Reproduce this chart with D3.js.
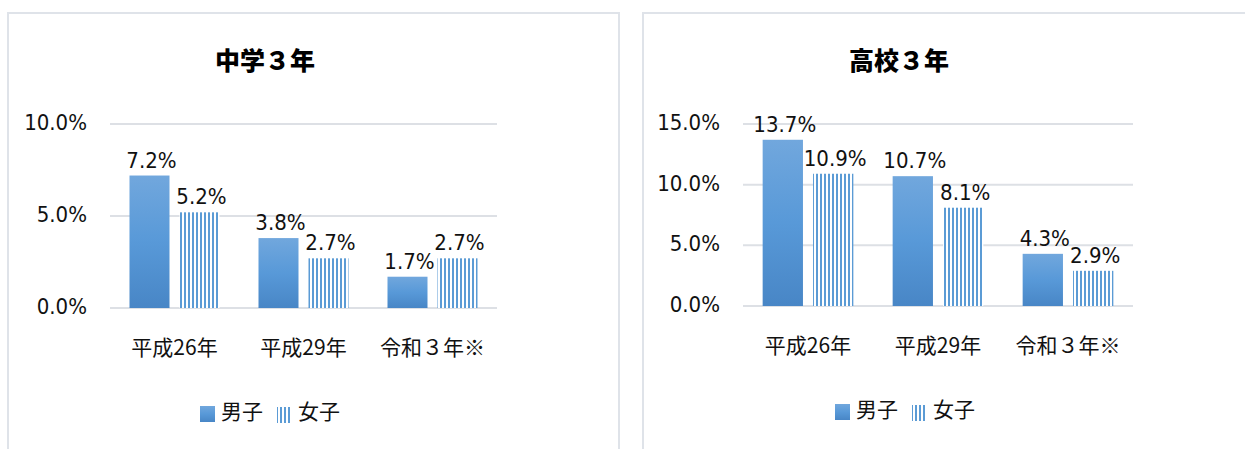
<!DOCTYPE html>
<html lang="ja">
<head>
<meta charset="UTF-8">
<title>中学３年・高校３年</title>
<script src="https://d3js.org/d3.v7.min.js"></script>
<style>
    body { margin: 0; background: #fff; }
    .num { font-family: "DejaVu Sans Condensed", "DejaVu Sans", Verdana, sans-serif; font-size: 22px; fill: #111; }
    .jp { font-family: "Noto Sans CJK JP", "Noto Sans", sans-serif; font-size: 21px; fill: #111; }
    .title { font-family: "Noto Sans CJK JP", sans-serif; font-size: 25px; font-weight: 900; fill: #000; }
</style>
</head>
<body>
<div id="chart"></div>
<script>
    // data
    var categories = ["平成26年", "平成29年", "令和３年※"];
    var series = ["男子", "女子"];
    var juniorMale = [7.2, 3.8, 1.7];
    var juniorFemale = [5.2, 2.7, 2.7];
    var highMale = [13.7, 10.7, 4.3];
    var highFemale = [10.9, 8.1, 2.9];
    var juniorTicks = [0, 5, 10];
    var highTicks = [0, 5, 10, 15];

    var W = 1245, H = 449;
    var svg = d3.select("#chart").append("svg")
        .attr("width", W)
        .attr("height", H);

    var defs = svg.append("defs");
    var grad = defs.append("linearGradient")
        .attr("id", "maleGrad")
        .attr("x1", 0).attr("y1", 0).attr("x2", 0).attr("y2", 1);
    grad.append("stop").attr("offset", "0%").attr("stop-color", "#71a7dd");
    grad.append("stop").attr("offset", "50%").attr("stop-color", "#5899d8");
    grad.append("stop").attr("offset", "100%").attr("stop-color", "#4886c6");

    var pat = defs.append("pattern")
        .attr("id", "femaleStripes")
        .attr("patternUnits", "userSpaceOnUse")
        .attr("width", 4).attr("height", 4);
    pat.append("rect").attr("width", 4).attr("height", 4).attr("fill", "#fff");
    pat.append("rect").attr("x", 0).attr("width", 2).attr("height", 4).attr("fill", "#5b9bd5");

    function fillFor(s) { return s === "男子" ? "url(#maleGrad)" : "url(#femaleStripes)"; }

    // panel frames
    svg.append("rect").attr("x", 8).attr("y", 13).attr("width", 611).attr("height", 500)
        .attr("fill", "none").attr("stroke", "#dfe3e9").attr("stroke-width", 2);
    svg.append("rect").attr("x", 643).attr("y", 13).attr("width", 640).attr("height", 500)
        .attr("fill", "none").attr("stroke", "#dfe3e9").attr("stroke-width", 2);

    var charts = [
        { title: "中学３年", male: juniorMale, female: juniorFemale, ticks: juniorTicks,
          x0: 110, x1: 497, yTop: 124, yBottom: 308, titleX: 265, labelRight: 87,
          catY: 355, legendX: 200, legendY: 419 },
        { title: "高校３年", male: highMale, female: highFemale, ticks: highTicks,
          x0: 743, x1: 1133, yTop: 124, yBottom: 306, titleX: 899, labelRight: 720,
          catY: 353, legendX: 835, legendY: 417 }
    ];

    charts.forEach(function(c) {
        var g = svg.append("g");
        var maxT = d3.max(c.ticks);

        var x = d3.scaleBand()
            .domain(categories)
            .range([c.x0, c.x1])
            .padding(0);

        var xs = d3.scaleBand()
            .domain(series)
            .range([0, x.bandwidth()])
            .paddingInner(0.2)
            .paddingOuter(0.39);

        var y = d3.scaleLinear()
            .domain([0, maxT])
            .range([c.yBottom, c.yTop]);

        // title
        g.append("text")
            .attr("class", "title")
            .attr("x", c.titleX)
            .attr("y", 70)
            .attr("text-anchor", "middle")
            .text(c.title);

        // gridlines
        g.selectAll(".grid")
            .data(c.ticks)
            .enter()
            .append("line")
            .attr("x1", c.x0).attr("x2", c.x1)
            .attr("y1", function(d) { return y(d); })
            .attr("y2", function(d) { return y(d); })
            .attr("stroke", "#dde0e5")
            .attr("stroke-width", 2);

        // y tick labels
        g.selectAll(".ytick")
            .data(c.ticks)
            .enter()
            .append("text")
            .attr("class", "num")
            .attr("x", c.labelRight)
            .attr("y", function(d) { return y(d) + 6; })
            .attr("text-anchor", "end")
            .text(function(d) { return d.toFixed(1) + "%"; });

        var rows = [];
        categories.forEach(function(cat, i) {
            rows.push({ cat: cat, s: "男子", v: c.male[i] });
            rows.push({ cat: cat, s: "女子", v: c.female[i] });
        });

        // bars
        g.selectAll(".bar")
            .data(rows)
            .enter()
            .append("rect")
            .attr("x", function(d) { return x(d.cat) + xs(d.s); })
            .attr("y", function(d) { return y(d.v); })
            .attr("width", xs.bandwidth())
            .attr("height", function(d) { return y(0) - y(d.v); })
            .attr("fill", function(d) { return fillFor(d.s); });

        // value labels
        g.selectAll(".val")
            .data(rows)
            .enter()
            .append("text")
            .attr("class", "num")
            .attr("x", function(d) { return x(d.cat) + xs(d.s) + xs.bandwidth() / 2 + 2; })
            .attr("y", function(d) { return y(d.v) - 8; })
            .attr("text-anchor", "middle")
            .text(function(d) { return d.v.toFixed(1) + "%"; });

        // category labels
        g.selectAll(".cat")
            .data(categories)
            .enter()
            .append("text")
            .attr("class", "jp")
            .attr("x", function(d) { return x(d) + x.bandwidth() / 2; })
            .attr("y", c.catY)
            .attr("text-anchor", "middle")
            .text(function(d) { return d; });

        // legend
        var leg = g.append("g").attr("transform", "translate(" + c.legendX + "," + c.legendY + ")");
        leg.append("rect")
            .attr("x", 0).attr("y", -13)
            .attr("width", 15).attr("height", 16)
            .attr("fill", "url(#maleGrad)");
        leg.append("text").attr("class", "jp").attr("x", 21).attr("y", 0).text(series[0]);
        leg.append("rect")
            .attr("x", 77).attr("y", -12)
            .attr("width", 14).attr("height", 16)
            .attr("fill", "url(#femaleStripes)");
        leg.append("text").attr("class", "jp").attr("x", 98).attr("y", 0).text(series[1]);
    });
</script>
</body>
</html>
